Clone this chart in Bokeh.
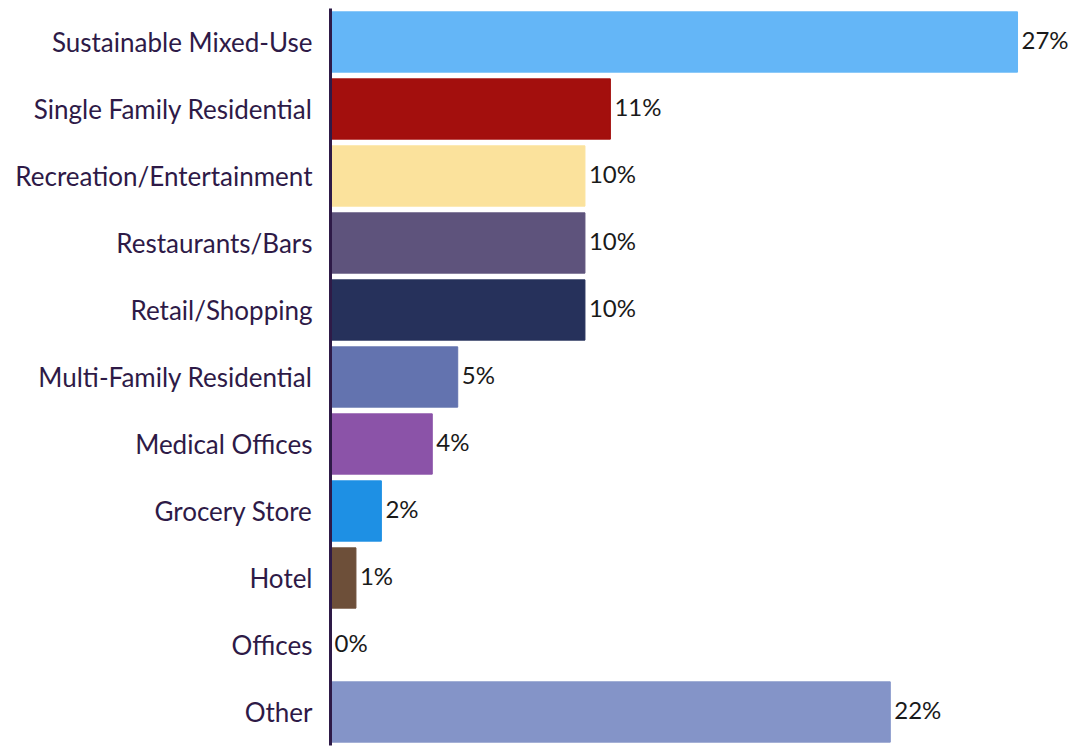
from bokeh.plotting import figure
from bokeh.models import ColumnDataSource, FactorRange, Range1d, LabelSet
from bokeh.core.properties import value
from bokeh.embed import file_html
from bokeh.resources import INLINE

categories = ["Sustainable Mixed-Use", "Single Family Residential", "Recreation/Entertainment",
              "Restaurants/Bars", "Retail/Shopping", "Multi-Family Residential", "Medical Offices",
              "Grocery Store", "Hotel", "Offices", "Other"]
values = [27, 11, 10, 10, 10, 5, 4, 2, 1, 0, 22]
labels = ["27%", "11%", "10%", "10%", "10%", "5%", "4%", "2%", "1%", "0%", "22%"]
colors = ["#64b6f7", "#a30f0d", "#fbe29c", "#5e537c", "#26315b", "#6373af", "#8b53a8",
          "#1e90e4", "#6d4f39", "#ffffff", "#8494c8"]

src = ColumnDataSource(dict(cat=categories, val=values, lab=labels, col=colors))

p = figure(width=1073, height=755, output_backend="svg", toolbar_location=None,
           y_range=FactorRange(factors=categories[::-1]), x_range=Range1d(0, 29.2),
           min_border_left=330, min_border_right=0, min_border_top=8, min_border_bottom=10)
p.hbar(y="cat", right="val", left=0, height=0.9, color="col", source=src)

p.add_layout(LabelSet(x="val", y="cat", text="lab", source=src, x_offset=4, y_offset=3,
                      text_baseline="middle", text_align="left", text_font_size="24px",
                      text_font=value("Lato"), text_color="#1a1a1a"))

p.xaxis.visible = False
p.xgrid.visible = False
p.ygrid.visible = False
p.outline_line_color = None
p.yaxis.axis_line_color = "#2e1a47"
p.yaxis.axis_line_width = 3
p.yaxis.major_tick_line_color = None
p.yaxis.minor_tick_line_color = None
p.yaxis.major_label_text_font = "Lato"
p.yaxis.major_label_text_font_size = "26px"
p.yaxis.major_label_text_color = "#2e1a47"
p.yaxis.major_label_standoff = 12

open("out.html", "w").write(file_html(p, INLINE))
